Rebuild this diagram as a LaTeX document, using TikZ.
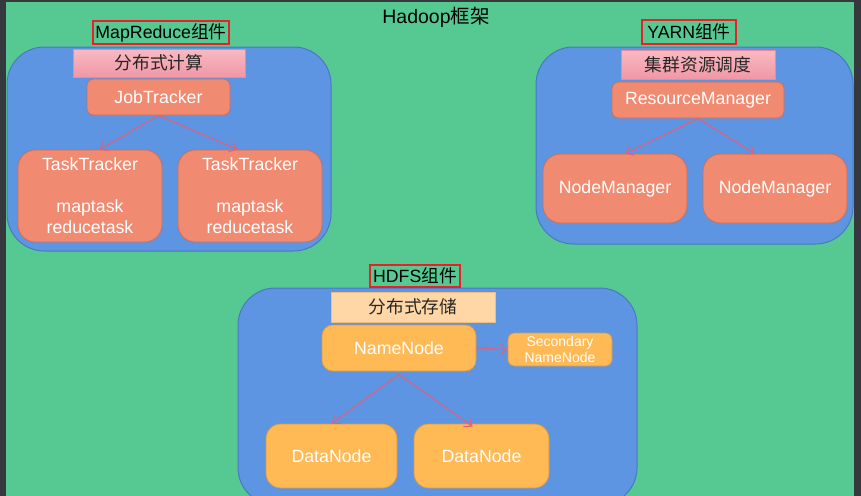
\documentclass[tikz,border=0pt]{standalone}
\usepackage{fontspec}
\setmainfont{Liberation Sans}
\newfontfamily\cjk{Noto Sans CJK SC}
\usetikzlibrary{arrows.meta}

\definecolor{frame}{HTML}{35393E}
\definecolor{bggreen}{HTML}{56C992}
\definecolor{compblue}{HTML}{5D95E3}
\definecolor{compedge}{HTML}{4A78C0}
\definecolor{salmon}{HTML}{F08A70}
\definecolor{salmonedge}{HTML}{CC6F5C}
\definecolor{amber}{HTML}{FFBA56}
\definecolor{amberedge}{HTML}{D89A45}
\definecolor{pinktop}{HTML}{F9BAC2}
\definecolor{pinkbot}{HTML}{F097A6}
\definecolor{pinkedge}{HTML}{E88A9C}
\definecolor{peach}{HTML}{FFD7A6}
\definecolor{peachedge}{HTML}{EDBE82}
\definecolor{arrowred}{HTML}{E0607C}
\definecolor{tagred}{HTML}{E8202A}

\tikzset{
  % a rectangle given by its corners in pixel units (x1,y1,x2,y2)
  span/.style n args={4}{at={({(#1+#3)/2},{(#2+#4)/2})},
    minimum width={(#3-#1)*0.75pt}, minimum height={(#4-#2)*0.75pt}},
  box/.style={rectangle, inner sep=0pt, anchor=center, font=\fontsize{13.3}{16}\selectfont},
  comp/.style={box, draw=compedge, fill=compblue, line width=0.75pt, rounded corners=28pt},
  tag/.style={box, draw=tagred, line width=0.9pt, text=black},
  pinkhead/.style={box, draw=pinkedge, top color=pinktop, bottom color=pinkbot, text=black!85},
  peachhead/.style={box, draw=peachedge, fill=peach, text=black!85},
  redbox/.style={box, draw=salmonedge, fill=salmon, text=white, line width=0.6pt},
  orangebox/.style={box, draw=amberedge, fill=amber, text=white, line width=0.6pt},
  link/.style={draw=arrowred, line width=0.8pt, -{Straight Barb[length=5pt,width=8pt]}}
}

\begin{document}
\begin{tikzpicture}[x=0.75pt,y=-0.75pt]
\useasboundingbox (0,0) rectangle (861,496);
\clip (0,0) rectangle (861,496);
\fill[frame] (0,0) rectangle (861,496);
\fill[bggreen] (6,2) rectangle (854,496);

% title
\node[box, font=\fontsize{14.6}{17}\selectfont] (title) at (436,17) {Hadoop{\cjk 框架}};

% ---------- MapReduce ----------
\node[comp, span={7}{47}{331}{251}] (mrpanel) {};
\node[tag, span={93}{21}{229}{44}] (mrtag) {MapReduce{\cjk 组件}};
\node[pinkhead, span={73}{49}{245}{77}] (mrhead) {\cjk 分布式计算};
\node[redbox, rounded corners=5pt, span={87}{79}{230}{115}] (jt) {JobTracker};
\node[redbox, rounded corners=13pt, span={18}{150}{162}{242}, align=center,
      font=\fontsize{13.3}{15.8}\selectfont] (tt1) {TaskTracker\\[15.8pt]maptask\\reducetask};
\node[redbox, rounded corners=13pt, span={178}{150}{322}{242}, align=center,
      font=\fontsize{13.3}{15.8}\selectfont] (tt2) {TaskTracker\\[15.8pt]maptask\\reducetask};
\draw[link] (jt.south) -- ([xshift=-63*0.75pt]tt1.north east);
\draw[link] (jt.south) -- ([xshift=60*0.75pt]tt2.north west);

% ---------- YARN ----------
\node[comp, span={536}{47}{853}{244}] (yarnpanel) {};
\node[tag, span={642}{20}{736}{44}] (yarntag) {YARN{\cjk 组件}};
\node[pinkhead, span={621}{50}{775}{79}] (yarnhead) {\cjk 集群资源调度};
\node[redbox, rounded corners=5pt, span={612}{82}{784}{118}] (rm) {ResourceManager};
\node[redbox, rounded corners=13pt, span={543}{154}{687}{223}] (nm1) {NodeManager};
\node[redbox, rounded corners=13pt, span={703}{154}{847}{223}] (nm2) {NodeManager};
\draw[link] (rm.south) -- ([xshift=-62*0.75pt]nm1.north east);
\draw[link] (rm.south) -- ([xshift=52*0.75pt]nm2.north west);

% ---------- HDFS ----------
\node[comp, span={238}{288}{637}{505}] (hdfspanel) {};
\node[tag, span={370}{265}{460}{287}] (hdfstag) {HDFS{\cjk 组件}};
\node[peachhead, span={331}{292}{495}{322}] (hdfshead) {\cjk 分布式存储};
\node[orangebox, rounded corners=8pt, span={322}{325}{476}{371}] (nn) {NameNode};
\node[orangebox, rounded corners=5pt, span={508}{333}{612}{366}, align=center,
      font=\fontsize{10.5}{12}\selectfont] (snn) {Secondary\\NameNode};
\node[orangebox, rounded corners=11pt, span={266}{424}{397}{488}] (dn1) {DataNode};
\node[orangebox, rounded corners=11pt, span={414}{424}{549}{488}] (dn2) {DataNode};
\draw[link] ([yshift=-3*0.75pt]nn.south) -- ([xshift=66*0.75pt]dn1.north west);
\draw[link] ([yshift=-3*0.75pt]nn.south) -- ([xshift=59*0.75pt, yshift=-3*0.75pt]dn2.north west);
\draw[link] (nn.east) -- (snn.west);
\end{tikzpicture}
\end{document}
